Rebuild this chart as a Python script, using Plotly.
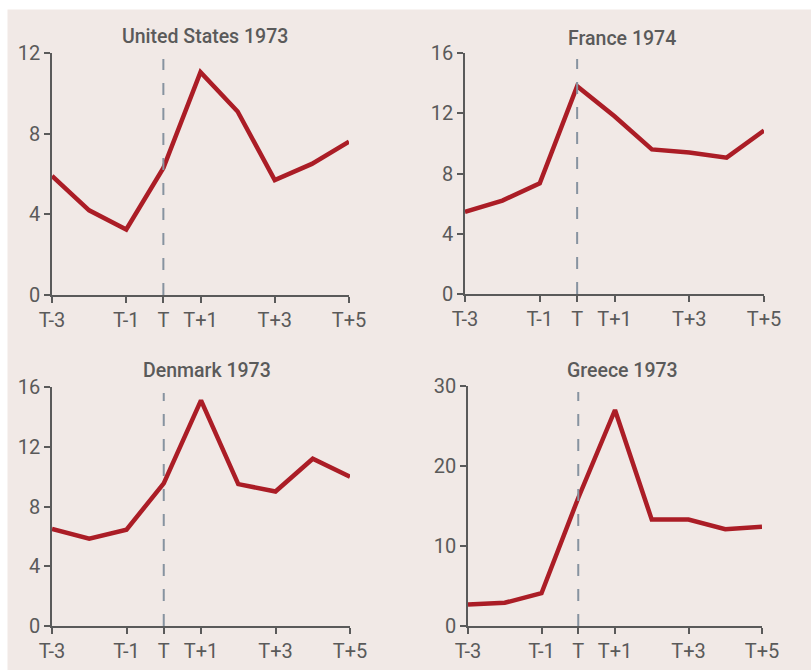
import plotly.graph_objects as go
from plotly.subplots import make_subplots

# years around the oil shock, T = shock year
periods = [-3, -2, -1, 0, 1, 2, 3, 4, 5]
tick_vals = [-3, -1, 0, 1, 3, 5]
tick_text = ["T-3", "T-1", "T", "T+1", "T+3", "T+5"]

us_1973 = [5.9, 4.2, 3.25, 6.3, 11.05, 9.1, 5.7, 6.5, 7.6]
france_1974 = [5.45, 6.2, 7.35, 13.8, 11.8, 9.6, 9.4, 9.05, 10.85]
denmark_1973 = [6.5, 5.85, 6.45, 9.55, 15.1, 9.5, 9.0, 11.2, 10.0]
greece_1973 = [2.7, 2.9, 4.1, 16.0, 27.0, 13.3, 13.3, 12.1, 12.4]

titles = ["United States 1973", "France 1974", "Denmark 1973", "Greece 1973"]
series = [us_1973, france_1974, denmark_1973, greece_1973]
y_max = [12, 16, 16, 30]
y_step = [4, 4, 4, 10]

W, H = 811, 670
BG = "#f1e9e6"
RED = "#ab1d26"
GREY = "#5a5a5a"
FONT = "Roboto, Liberation Sans, sans-serif"

# plot boxes in pixels: (left, right, top, bottom)
boxes = [(52, 349, 53, 295), (465, 764, 53, 294),
         (52, 350, 387, 626), (468, 762, 386, 626)]
title_pos = [(205, 37), (622, 38), (207, 370), (622, 370)]

fig = make_subplots(rows=2, cols=2)

for i, vals in enumerate(series):
    row, col = i // 2 + 1, i % 2 + 1
    fig.add_trace(go.Scatter(x=periods, y=vals, mode="lines",
                             line=dict(color=RED, width=4.5),
                             showlegend=False), row=row, col=col)
    l, r, t, b = boxes[i]
    fig.update_xaxes(domain=[l / W, r / W], range=[-3, 5],
                     tickvals=tick_vals, ticktext=tick_text,
                     showline=True, linecolor=GREY, linewidth=1.5,
                     ticks="outside", ticklen=6, tickcolor=GREY, tickwidth=1.5,
                     showgrid=False, zeroline=False, automargin=False,
                     tickfont=dict(family=FONT, size=20, color=GREY),
                     row=row, col=col)
    fig.update_yaxes(domain=[1 - b / H, 1 - t / H], range=[0, y_max[i]],
                     dtick=y_step[i], tick0=0,
                     showline=True, linecolor=GREY, linewidth=1.5,
                     ticks="outside", ticklen=6, tickcolor=GREY, tickwidth=1.5,
                     showgrid=False, zeroline=False, automargin=False,
                     tickfont=dict(family=FONT, size=20, color=GREY),
                     row=row, col=col)
    # dashed marker at T
    fig.add_shape(type="line", x0=0, x1=0, y0=0, y1=0.975,
                  xref=f"x{i + 1 if i else ''}", yref=f"y{i + 1 if i else ''} domain",
                  line=dict(color="#8793a0", width=2, dash="12px,13px"))
    tx, ty = title_pos[i]
    fig.add_annotation(text=titles[i], x=tx / W, y=1 - ty / H,
                       xref="paper", yref="paper", showarrow=False,
                       xanchor="center", yanchor="middle",
                       font=dict(family=FONT, size=19.5, color=GREY, weight=500))

# light panel behind everything, thin white border top/left
fig.add_shape(type="rect", xref="paper", yref="paper",
              x0=7.5 / W, x1=1, y0=0, y1=1 - 9.5 / H,
              fillcolor=BG, line=dict(width=0), layer="below")

fig.update_layout(
    width=W, height=H,
    margin=dict(l=0, r=0, t=0, b=0),
    paper_bgcolor="white",
    plot_bgcolor=BG,
)

fig.write_html("out.html", config={"displayModeBar": False},
               post_script="document.body.style.margin='0';")
